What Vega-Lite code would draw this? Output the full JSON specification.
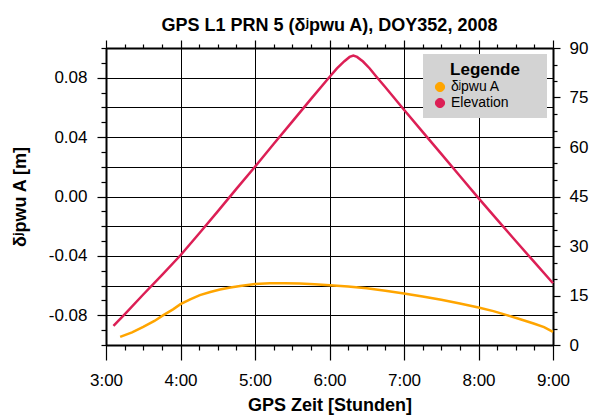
{
  "$schema": "https://vega.github.io/schema/vega-lite/v6.json",
  "width": 447,
  "height": 297,
  "autosize": {"type": "none"},
  "padding": {"left": 106, "top": 48, "right": 37, "bottom": 70},
  "background": "white",
  "title": {"text": "GPS L1 PRN 5 (δʲpwu A), DOY352, 2008", "fontSize": 18, "fontWeight": "bold", "anchor": "middle", "color": "black", "offset": 4},
  "datasets": {
    "delta": [
      {"t": 3.19, "v": -0.0945}, {"t": 3.35, "v": -0.0915}, {"t": 3.5, "v": -0.0878}, {"t": 3.65, "v": -0.0838},
      {"t": 3.77, "v": -0.0799}, {"t": 3.9, "v": -0.076}, {"t": 4.0, "v": -0.0725}, {"t": 4.13, "v": -0.0693},
      {"t": 4.26, "v": -0.0664}, {"t": 4.4, "v": -0.0643}, {"t": 4.53, "v": -0.0626}, {"t": 4.67, "v": -0.0613},
      {"t": 4.8, "v": -0.0602}, {"t": 5.0, "v": -0.059}, {"t": 5.2, "v": -0.0585}, {"t": 5.4, "v": -0.0584},
      {"t": 5.6, "v": -0.0586}, {"t": 5.8, "v": -0.0591}, {"t": 6.0, "v": -0.0597}, {"t": 6.25, "v": -0.0606},
      {"t": 6.5, "v": -0.0618}, {"t": 6.75, "v": -0.0635}, {"t": 7.0, "v": -0.0653}, {"t": 7.25, "v": -0.0674},
      {"t": 7.5, "v": -0.0696}, {"t": 7.75, "v": -0.072}, {"t": 8.0, "v": -0.0747}, {"t": 8.2, "v": -0.0772},
      {"t": 8.38, "v": -0.0799}, {"t": 8.55, "v": -0.0825}, {"t": 8.74, "v": -0.0855}, {"t": 8.88, "v": -0.088},
      {"t": 9.0, "v": -0.0911}
    ],
    "elev": [
      {"t": 3.1, "e": 5.8}, {"t": 3.25, "e": 9.3}, {"t": 3.5, "e": 15.3}, {"t": 3.75, "e": 21.2},
      {"t": 4.0, "e": 27.2}, {"t": 4.25, "e": 33.8}, {"t": 4.5, "e": 40.5}, {"t": 4.75, "e": 47.3},
      {"t": 5.0, "e": 54.0}, {"t": 5.25, "e": 60.9}, {"t": 5.5, "e": 67.7}, {"t": 5.75, "e": 74.5},
      {"t": 6.0, "e": 81.2}, {"t": 6.1, "e": 83.8}, {"t": 6.2, "e": 86.0}, {"t": 6.27, "e": 87.3},
      {"t": 6.32, "e": 87.7}, {"t": 6.37, "e": 87.3}, {"t": 6.45, "e": 85.9}, {"t": 6.54, "e": 83.8},
      {"t": 6.63, "e": 81.3}, {"t": 6.75, "e": 78.1}, {"t": 7.0, "e": 71.3}, {"t": 7.25, "e": 64.6},
      {"t": 7.5, "e": 57.9}, {"t": 7.75, "e": 51.2}, {"t": 8.0, "e": 44.5}, {"t": 8.25, "e": 38.0},
      {"t": 8.5, "e": 31.5}, {"t": 8.75, "e": 25.1}, {"t": 9.0, "e": 18.7}
    ]
  },
  "layer": [
    {
      "data": {"name": "delta"},
      "mark": {"type": "line", "strokeWidth": 2.5},
      "encoding": {
        "x": {
          "field": "t", "type": "quantitative",
          "scale": {"domain": [3, 9], "nice": false, "zero": false},
          "axis": {
            "orient": "bottom",
            "title": "GPS Zeit [Stunden]",
            "titlePadding": 8,
            "values": [3,3.25,3.5,3.75,4,4.25,4.5,4.75,5,5.25,5.5,5.75,6,6.25,6.5,6.75,7,7.25,7.5,7.75,8,8.25,8.5,8.75,9],
            "labelExpr": "datum.value % 1 === 0 ? format(datum.value, 'd') + ':00' : ''",
            "tickSize": {"condition": {"test": "datum.value % 1 === 0", "value": 15}, "value": 5},
            "labelPadding": 12,
            "grid": true,
            "gridOpacity": {"condition": {"test": "datum.value % 1 === 0", "value": 1}, "value": 0}
          }
        },
        "y": {
          "field": "v", "type": "quantitative",
          "scale": {"domain": [-0.1, 0.1], "nice": false, "zero": false},
          "axis": {
            "orient": "left",
            "title": "δʲpwu A [m]",
            "titlePadding": 19,
            "values": [-0.1,-0.09,-0.08,-0.07,-0.06,-0.05,-0.04,-0.03,-0.02,-0.01,0,0.01,0.02,0.03,0.04,0.05,0.06,0.07,0.08,0.09,0.1],
            "labelExpr": "(abs(round(datum.value*100)) % 4 === 0 && abs(datum.value) < 0.095) ? (datum.value < -0.001 ? '-' + format(-datum.value, '.2f') : format(abs(datum.value), '.2f')) : ''",
            "tickSize": {"condition": {"test": "abs(round(datum.value*100)) % 4 === 0", "value": 9}, "value": 5},
            "labelPadding": 10,
            "grid": true,
            "gridOpacity": {"condition": {"test": "abs(round(datum.value*100)) % 2 === 0", "value": 1}, "value": 0}
          }
        },
        "color": {
          "datum": "δʲpwu A",
          "type": "nominal",
          "scale": {"domain": ["δʲpwu A", "Elevation"], "range": ["#FFA500", "#DC1F55"]},
          "legend": {
            "orient": "none",
            "legendX": 317,
            "legendY": 6,
            "title": "Legende",
            "titleFontSize": 17,
            "titleFontWeight": "bold",
            "titleColor": "black",
            "titleAnchor": "middle",
            "titlePadding": 1,
            "fillColor": "#d3d3d3",
            "padding": 8,
            "labelFontSize": 14,
            "labelColor": "black",
            "labelExpr": "datum.label + '\u2800\u2800\u2800'",
            "rowPadding": 2,
            "symbolType": "circle",
            "symbolSize": 85,
            "symbolOffset": 2,
            "symbolStrokeColor": "black",
            "symbolStrokeWidth": 1,
            "encode": {
              "symbols": {"update": {"fill": {"scale": "color", "field": "value"}, "stroke": {"value": "black"}, "strokeWidth": {"value": 1}, "fillOpacity": {"value": 1}}}
            }
          }
        }
      }
    },
    {
      "data": {"name": "elev"},
      "mark": {"type": "line", "strokeWidth": 2.5},
      "encoding": {
        "x": {
          "field": "t", "type": "quantitative",
          "scale": {"domain": [3, 9], "nice": false, "zero": false},
          "axis": {
            "orient": "top",
            "title": null,
            "values": [3,3.25,3.5,3.75,4,4.25,4.5,4.75,5,5.25,5.5,5.75,6,6.25,6.5,6.75,7,7.25,7.5,7.75,8,8.25,8.5,8.75,9],
            "labels": false,
            "tickSize": {"condition": {"test": "datum.value % 1 === 0", "value": 8}, "value": 4},
            "grid": false
          }
        },
        "y": {
          "field": "e", "type": "quantitative",
          "scale": {"domain": [0, 90], "nice": false},
          "axis": {
            "orient": "right",
            "title": null,
            "values": [0,5,10,15,20,25,30,35,40,45,50,55,60,65,70,75,80,85,90],
            "labelExpr": "datum.value % 15 === 0 ? format(datum.value, 'd') : ''",
            "tickSize": {"condition": {"test": "datum.value % 15 === 0", "value": 7}, "value": 4},
            "labelPadding": 9,
            "grid": false
          }
        },
        "color": {"datum": "Elevation", "type": "nominal"}
      }
    }
  ],
  "resolve": {"scale": {"y": "independent"}, "axis": {"x": "independent", "y": "independent"}},
  "config": {
    "font": "Liberation Sans",
    "view": {"stroke": null},
    "axis": {
      "domainColor": "black",
      "domainWidth": 2,
      "tickColor": "black",
      "tickWidth": 1.2,
      "labelFontSize": 17,
      "labelColor": "black",
      "titleFontSize": 18,
      "titleFontWeight": "bold",
      "titleColor": "black",
      "gridColor": "black",
      "gridWidth": 1,
      "labelFlush": false,
      "labelOverlap": false
    }
  }
}
